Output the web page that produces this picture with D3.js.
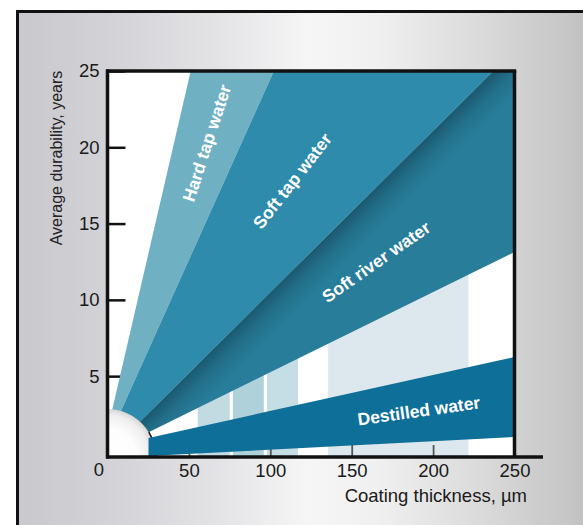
<!DOCTYPE html>
<html><head><meta charset="utf-8">
<script src="https://cdn.jsdelivr.net/npm/d3@7"></script>
<style>html,body{margin:0;padding:0;background:#fff;} svg{display:block;font-family:"Liberation Sans",Arial,Helvetica,sans-serif;}</style>
</head><body><svg id="c" width="583" height="525"></svg>
<script>
// ---------- data ----------
const xTicks = [50, 100, 150, 200, 250];
const yTicks = [5, 10, 15, 20, 25];
const bandNames = ["Hard tap water", "Soft tap water", "Soft river water", "Destilled water"];
// band outlines as [coating thickness µm, durability years]
const hardTap   = [[-1.0, 1.0], [51.1, 25], [102.2, 25], [1.0, 1.0]];
const softTap   = [[1.0, 1.0], [102.2, 25], [237.1, 25], [10.4, 1.0]];
const softRiver = [[10.4, 1.0], [237.1, 25], [250, 25], [250, 13.14], [19.0, 1.0]];
const destilled = [[25.2, 0.95], [250, 6.25], [250, 1.01], [25.2, -0.23]];
// light background ranges
const barStart = [55.4, 77.0, 97.9, 135.5];
const barEnd   = [75.1, 96.0, 117.0, 221.7];
const barTop   = [7, 7, 7, 12];

// ---------- layout / style ----------
const bandColors = ["#70b0c3", "#2e8bab", "#287d9a", "#0e6f98"];
const barColors = ["#c2dbe2", "#afd1da", "#c5dde4", "#dce8ee"];
const labelAnchors = [[61.0, 20.28, -72], [113.6, 17.79, -52], [165.0, 12.48, -35], [191.2, 2.72, -8]];
const yBase = -0.3;

const svg = d3.select("#c");
const defs = svg.append("defs");

const x = d3.scaleLinear().domain([0, 250]).range([107.5, 514.5]);
const y = d3.scaleLinear().domain([yBase, 25]).range([457, 71]);

// background gradient
const bg = defs.append("linearGradient").attr("id", "bg").attr("x1", 0).attr("x2", 1).attr("y1", 0).attr("y2", 0);
[[0, "#c9c9cd"], [0.15, "#d3d3d7"], [0.32, "#e3e3e6"], [0.47, "#f6f6f6"], [0.58, "#f0f0f0"], [0.75, "#dadada"], [0.9, "#c4c4c4"], [1, "#b2b2b2"]]
  .forEach(s => bg.append("stop").attr("offset", s[0]).attr("stop-color", s[1]));

svg.append("rect").attr("x", 17.5).attr("y", 11.5).attr("width", 620).attr("height", 560)
  .attr("fill", "url(#bg)").attr("stroke", "#111").attr("stroke-width", 3);

// clip for plot
defs.append("clipPath").attr("id", "plotClip").append("rect")
  .attr("x", x(0)).attr("y", y(25)).attr("width", x(250) - x(0)).attr("height", y(yBase) - y(25));

const plot = svg.append("g");
plot.append("rect").attr("x", x(0)).attr("y", y(25)).attr("width", x(250) - x(0)).attr("height", y(yBase) - y(25)).attr("fill", "#fff");

const inner = plot.append("g").attr("clip-path", "url(#plotClip)");

// bars
inner.selectAll("rect.bar").data(barStart).join("rect").attr("class", "bar")
  .attr("x", (d, i) => x(d)).attr("width", (d, i) => x(barEnd[i]) - x(d))
  .attr("y", (d, i) => y(barTop[i])).attr("height", (d, i) => y(yBase) - y(barTop[i]))
  .attr("fill", (d, i) => barColors[i]);

// axes (ticks beneath bands)
const yAxis = d3.axisLeft(y).tickValues(yTicks).tickSize(-18).tickPadding(8).tickSizeOuter(0);
const gy = svg.append("g").attr("transform", `translate(${x(0)},0)`).call(yAxis);
gy.select(".domain").remove();
gy.selectAll(".tick line").attr("stroke", "#111").attr("stroke-width", 2.5);
gy.selectAll(".tick text").attr("font-size", 18.5).attr("fill", "#1a1a1a").attr("font-family", "Liberation Sans, Arial, sans-serif");

const xAxis = d3.axisBottom(x).tickValues(xTicks).tickSize(-12).tickPadding(7).tickSizeOuter(0);
const gx = svg.append("g").attr("transform", `translate(0,${y(yBase)})`).call(xAxis);
gx.select(".domain").remove();
gx.selectAll(".tick line").attr("stroke", "#555").attr("stroke-width", 1.8);
gx.selectAll(".tick text").attr("font-size", 18.5).attr("fill", "#1a1a1a").attr("font-family", "Liberation Sans, Arial, sans-serif");

// bands
const line = d3.line().x(d => x(d[0])).y(d => y(d[1]));
const bandsTop = [hardTap, softTap, softRiver];
const bandLayer = svg.append("g").attr("clip-path", "url(#plotClip)");
bandLayer.selectAll("path.band").data(bandsTop).join("path").attr("class", "band")
  .attr("d", d => line(d) + "Z").attr("fill", (d, i) => bandColors[i]);

// shading along soft river upper edge
const p1 = [x(softRiver[0][0]), y(softRiver[0][1])], p2 = [x(softRiver[1][0]), y(softRiver[1][1])];
const len = Math.hypot(p2[0] - p1[0], p2[1] - p1[1]);
const u = [(p2[0] - p1[0]) / len, (p2[1] - p1[1]) / len];
const n = [-u[1], u[0]];
const m = [(p1[0] + p2[0]) / 2, (p1[1] + p2[1]) / 2];
const sg = defs.append("linearGradient").attr("id", "riverShade").attr("gradientUnits", "userSpaceOnUse")
  .attr("x1", m[0]).attr("y1", m[1]).attr("x2", m[0] + n[0] * 32).attr("y2", m[1] + n[1] * 32);
sg.append("stop").attr("offset", 0).attr("stop-color", "#103c4c").attr("stop-opacity", 0.55);
sg.append("stop").attr("offset", 0.45).attr("stop-color", "#103c4c").attr("stop-opacity", 0.22);
sg.append("stop").attr("offset", 1).attr("stop-color", "#103c4c").attr("stop-opacity", 0);
bandLayer.append("path").attr("d", line(softRiver) + "Z").attr("fill", "url(#riverShade)");

// origin disc
const rg = defs.append("radialGradient").attr("id", "disc").attr("gradientUnits", "userSpaceOnUse")
  .attr("cx", x(0)).attr("cy", y(yBase)).attr("r", 48);
[[0, "#ffffff"], [0.6, "#fdfdfd"], [0.88, "#eeeeee"], [1, "#d6d6d6"]]
  .forEach(s => rg.append("stop").attr("offset", s[0]).attr("stop-color", s[1]));
bandLayer.append("circle").attr("cx", x(0)).attr("cy", y(yBase)).attr("r", 48).attr("fill", "url(#disc)");

const arcG = bandLayer.append("g").attr("transform", `translate(${x(0)},${y(yBase)})`);
arcG.append("path").attr("d", d3.arc()({innerRadius: 47.5, outerRadius: 49, startAngle: Math.PI / 2 - 31 * Math.PI / 180, endAngle: Math.PI / 2})).attr("fill", "#111");
arcG.append("path").attr("d", d3.arc()({innerRadius: 47.5, outerRadius: 49, startAngle: -4 * Math.PI / 180, endAngle: 0})).attr("fill", "#111");

// destilled band
bandLayer.append("path").attr("d", line(destilled) + "Z").attr("fill", bandColors[3]);

// labels
svg.selectAll("text.bl").data(bandNames).join("text").attr("class", "bl")
  .attr("transform", (d, i) => `translate(${x(labelAnchors[i][0])},${y(labelAnchors[i][1])}) rotate(${labelAnchors[i][2]})`)
  .attr("text-anchor", "middle").attr("dominant-baseline", "central")
  .attr("fill", "#fff").attr("font-weight", "bold").attr("font-size", 17.5).text(d => d);

// frame lines
const fr = svg.append("g").attr("stroke", "#111").attr("stroke-width", 3.5).attr("fill", "none");
fr.append("line").attr("x1", x(0) - 1.5).attr("x2", x(250) + 1.75).attr("y1", y(25)).attr("y2", y(25));
fr.append("line").attr("x1", x(250)).attr("x2", x(250)).attr("y1", y(25)).attr("y2", y(yBase));
fr.append("line").attr("x1", x(0)).attr("x2", x(0)).attr("y1", y(25) - 1.5).attr("y2", y(yBase) + 1.5);
fr.append("line").attr("x1", x(0) - 1.5).attr("x2", 543).attr("y1", y(yBase)).attr("y2", y(yBase));

// origin label and titles
svg.append("text").attr("x", 99).attr("y", 476).attr("text-anchor", "middle").attr("font-size", 18.5).attr("fill", "#1a1a1a").text("0");
svg.append("text").attr("x", 527).attr("y", 502).attr("text-anchor", "end").attr("font-size", 18.5).attr("fill", "#1a1a1a").text("Coating thickness, µm");
svg.append("text").attr("transform", "translate(62,158) rotate(-90)").attr("text-anchor", "middle")
  .attr("font-size", 16).attr("fill", "#222").text("Average durability, years");
</script>
</body></html>
